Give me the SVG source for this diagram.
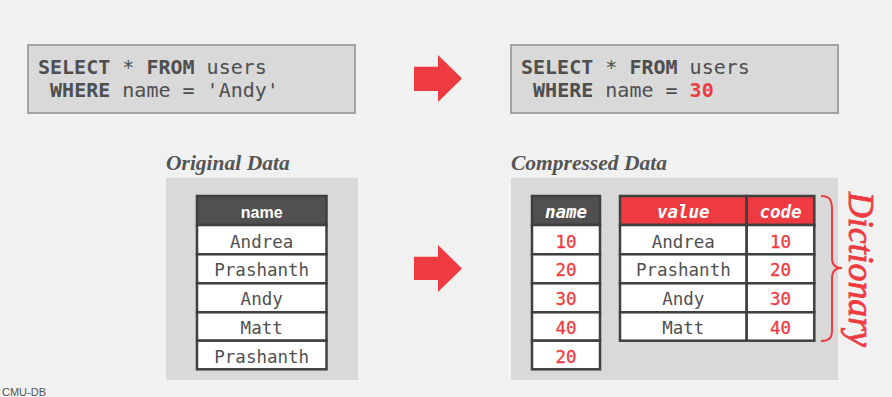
<svg xmlns="http://www.w3.org/2000/svg" width="892" height="397" viewBox="0 0 892 397">
  <style>
    .mono { font-family: "DejaVu Sans Mono", "Liberation Mono", monospace; }
    .sql { font-size: 20px; fill: #4f4f4f; }
    .kw { font-weight: bold; }
    .qbox { fill: #d9d9d9; stroke: #a3a3a3; stroke-width: 2; }
    .panel { fill: #d9d9d9; }
    .cell { fill: #ffffff; stroke: #3f3f3f; stroke-width: 2.5; }
    .hdr { fill: #505050; stroke: #3f3f3f; stroke-width: 2.5; }
    .hdr-red { fill: #ee3b41; stroke: #3f3f3f; stroke-width: 2.5; }
    .val { font-family: "DejaVu Sans Mono", "Liberation Mono", monospace; font-size: 17.5px; fill: #505050; text-anchor: middle; }
    .num { font-family: "DejaVu Sans Mono", "Liberation Mono", monospace; font-size: 17.5px; fill: #ee3b41; text-anchor: middle; stroke: #ee3b41; stroke-width: 0.3; }
    .hmono { font-family: "DejaVu Sans Mono", "Liberation Mono", monospace; font-size: 17.5px; font-weight: bold; font-style: italic; fill: #ffffff; text-anchor: middle; }
    .title { font-family: "Liberation Serif", serif; font-size: 21.5px; font-weight: bold; font-style: italic; fill: #555555; }
    .arrow { fill: #ee3b41; }
  </style>

  <rect width="892" height="397" fill="#f1f1f1"/>

  <!-- original query -->
  <g id="query-original">
    <rect class="qbox" x="28" y="45" width="327" height="68"/>
    <text class="mono sql" x="38" y="74" xml:space="preserve"><tspan class="kw">SELECT</tspan> * <tspan class="kw">FROM</tspan> users</text>
    <text class="mono sql" x="38" y="97" xml:space="preserve"> <tspan class="kw">WHERE</tspan> name = 'Andy'</text>
  </g>

  <!-- rewritten query -->
  <g id="query-compressed">
    <rect class="qbox" x="511" y="45" width="327" height="68"/>
    <text class="mono sql" x="521" y="74" xml:space="preserve"><tspan class="kw">SELECT</tspan> * <tspan class="kw">FROM</tspan> users</text>
    <text class="mono sql" x="521" y="97" xml:space="preserve"> <tspan class="kw">WHERE</tspan> name = <tspan class="kw" fill="#ee3b41">30</tspan></text>
  </g>

  <!-- block arrows -->
  <g id="connectors">
    <path class="arrow" d="M414,66.7 L438,66.7 L438,55 L462,78.5 L438,102 L438,91 L414,91 Z"/>
    <path class="arrow" d="M414,256.7 L438,256.7 L438,245 L462,268.5 L438,292 L438,280 L414,280 Z"/>
  </g>

  <!-- original column -->
  <g id="original-data">
    <text class="title" x="166" y="170">Original Data</text>
    <rect class="panel" x="166" y="178" width="192" height="202"/>
    <rect class="hdr" x="197" y="196" width="129.5" height="29"/>
    <text x="261.7" y="218" text-anchor="middle" font-family="Liberation Sans, Arial, sans-serif" font-size="16" font-weight="bold" fill="#ffffff">name</text>
    <rect class="cell" x="197" y="225" width="129.5" height="29.3"/>
    <rect class="cell" x="197" y="254.3" width="129.5" height="29"/>
    <rect class="cell" x="197" y="283.3" width="129.5" height="29"/>
    <rect class="cell" x="197" y="312.3" width="129.5" height="28.4"/>
    <rect class="cell" x="197" y="340.7" width="129.5" height="28.6"/>
    <text class="val" x="261.7" y="247.5">Andrea</text>
    <text class="val" x="261.7" y="276.3">Prashanth</text>
    <text class="val" x="261.7" y="305.3">Andy</text>
    <text class="val" x="261.7" y="334">Matt</text>
    <text class="val" x="261.7" y="362.5">Prashanth</text>
  </g>

  <!-- compressed column -->
  <g id="compressed-data">
    <text class="title" x="511" y="170">Compressed Data</text>
    <rect class="panel" x="511" y="178" width="327" height="202"/>
    <rect class="hdr" x="532" y="196" width="68" height="29"/>
    <text class="hmono" x="566" y="218">name</text>
    <rect class="cell" x="532" y="225" width="68" height="29.3"/>
    <rect class="cell" x="532" y="254.3" width="68" height="29"/>
    <rect class="cell" x="532" y="283.3" width="68" height="29"/>
    <rect class="cell" x="532" y="312.3" width="68" height="28.4"/>
    <rect class="cell" x="532" y="340.7" width="68" height="28.6"/>
    <text class="num" x="566" y="247.5">10</text>
    <text class="num" x="566" y="276.3">20</text>
    <text class="num" x="566" y="305.3">30</text>
    <text class="num" x="566" y="334">40</text>
    <text class="num" x="566" y="362.5">20</text>
  </g>

  <!-- dictionary table -->
  <g id="dictionary">
    <rect class="hdr-red" x="620" y="196" width="126.7" height="29"/>
    <rect class="hdr-red" x="746.7" y="196" width="67.6" height="29"/>
    <text class="hmono" x="683.3" y="218">value</text>
    <text class="hmono" x="780.5" y="218">code</text>
    <rect class="cell" x="620" y="225" width="126.7" height="29.3"/>
    <rect class="cell" x="620" y="254.3" width="126.7" height="29"/>
    <rect class="cell" x="620" y="283.3" width="126.7" height="29"/>
    <rect class="cell" x="620" y="312.3" width="126.7" height="28.4"/>
    <rect class="cell" x="746.7" y="225" width="67.6" height="29.3"/>
    <rect class="cell" x="746.7" y="254.3" width="67.6" height="29"/>
    <rect class="cell" x="746.7" y="283.3" width="67.6" height="29"/>
    <rect class="cell" x="746.7" y="312.3" width="67.6" height="28.4"/>
    <text class="val" x="683.3" y="247.5">Andrea</text>
    <text class="val" x="683.3" y="276.3">Prashanth</text>
    <text class="val" x="683.3" y="305.3">Andy</text>
    <text class="val" x="683.3" y="334">Matt</text>
    <text class="num" x="780.5" y="247.5">10</text>
    <text class="num" x="780.5" y="276.3">20</text>
    <text class="num" x="780.5" y="305.3">30</text>
    <text class="num" x="780.5" y="334">40</text>
    <path d="M821,196 C830,196 832,200 832,210 L832,258 C832,265 836,268 842,268 C836,268 832,271 832,278 L832,330 C832,337 830,341 821,341" fill="none" stroke="#ee3b41" stroke-width="2"/>
    <text transform="translate(849,192) rotate(90)" font-family="Liberation Serif, serif" font-style="italic" font-size="35" fill="#ee3b41" stroke="#ee3b41" stroke-width="0.8" textLength="155" lengthAdjust="spacingAndGlyphs">Dictionary</text>
  </g>

  <text x="2" y="396" font-family="Liberation Sans, Arial, sans-serif" font-size="11" fill="#555555">CMU-DB</text>
</svg>
